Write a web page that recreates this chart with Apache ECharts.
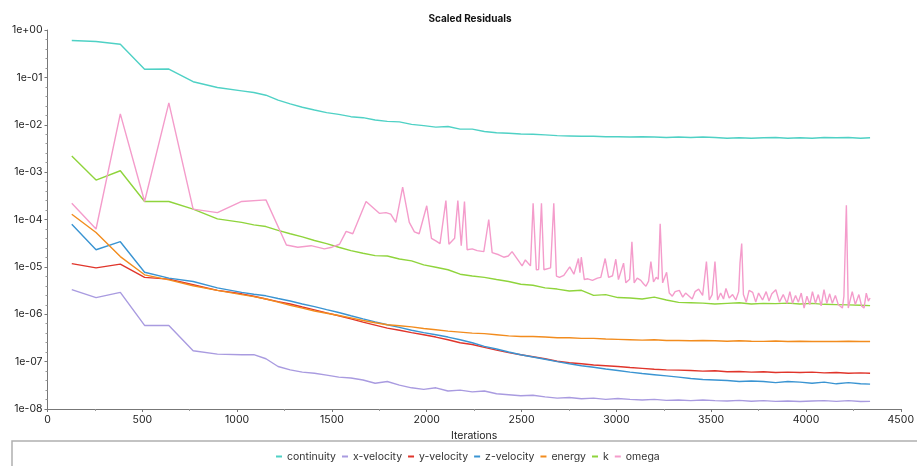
<!DOCTYPE html>
<html>
<head>
<meta charset="utf-8">
<script src="https://cdn.jsdelivr.net/npm/echarts@6/dist/echarts.min.js"></script>
<style>
html,body{margin:0;padding:0;background:#fff;}
#chart{width:917px;height:466px;}
</style>
</head>
<body>
<div id="chart"></div>
<script>
const seriesNames = ['continuity','x-velocity','y-velocity','z-velocity','energy','k','omega'];
const colors = ['#4fd1c5','#a99be0','#e0352b','#3a94d2','#f28c1e','#8fd43c','#f49ccb'];

const iterations = [128,256,384,512,640,768,896,1024,1088,1152,1216,1280,1344,1408,1472,1536,1600,1664,1728,1792,1856,1920,1984,2048,2112,2176,2240,2304,2368,2432,2496,2560,2624,2688,2752,2816,2880,2944,3008,3072,3136,3200,3264,3328,3392,3456,3520,3584,3648,3712,3776,3840,3904,3968,4032,4096,4160,4224,4288,4338];

const continuity = [0.60,0.57,0.50,0.148,0.150,0.081,0.061,0.052,0.048,0.042,0.033,0.0275,0.0234,0.0205,0.018,0.0166,0.0148,0.0141,0.0126,0.0118,0.0115,0.0102,0.0096,0.0089,0.0092,0.0081,0.0081,0.0072,0.0068,0.0066,0.0064,0.0063,0.0061,0.0059,0.0058,0.0057,0.0057,0.0056,0.0056,0.0055,0.0056,0.0055,0.0054,0.0055,0.0054,0.0055,0.0054,0.0052,0.0053,0.0052,0.0053,0.0054,0.0052,0.0053,0.0052,0.0054,0.0053,0.0054,0.0052,0.0053];

const xVelocity = [3.3e-6,2.24e-6,2.9e-6,5.8e-7,5.8e-7,1.7e-7,1.44e-7,1.4e-7,1.4e-7,1.15e-7,7.9e-8,6.7e-8,6.0e-8,5.7e-8,5.2e-8,4.7e-8,4.5e-8,4.1e-8,3.5e-8,3.8e-8,3.2e-8,2.8e-8,2.6e-8,2.8e-8,2.4e-8,2.5e-8,2.3e-8,2.4e-8,2.1e-8,2.0e-8,1.9e-8,1.95e-8,1.8e-8,1.7e-8,1.75e-8,1.65e-8,1.7e-8,1.6e-8,1.66e-8,1.6e-8,1.55e-8,1.6e-8,1.52e-8,1.55e-8,1.5e-8,1.55e-8,1.5e-8,1.47e-8,1.52e-8,1.46e-8,1.5e-8,1.45e-8,1.48e-8,1.44e-8,1.47e-8,1.5e-8,1.45e-8,1.5e-8,1.44e-8,1.45e-8];

const yVelocity = [1.17e-5,9.5e-6,1.14e-5,6.0e-6,5.5e-6,4.2e-6,3.2e-6,2.7e-6,2.4e-6,2.1e-6,1.85e-6,1.65e-6,1.42e-6,1.24e-6,1.07e-6,9.3e-7,8.0e-7,6.8e-7,5.9e-7,5.1e-7,4.6e-7,4.1e-7,3.7e-7,3.3e-7,2.9e-7,2.5e-7,2.3e-7,2.0e-7,1.75e-7,1.55e-7,1.4e-7,1.27e-7,1.15e-7,1.02e-7,9.5e-8,9.0e-8,8.5e-8,8.2e-8,7.9e-8,7.5e-8,7.2e-8,6.9e-8,6.7e-8,6.6e-8,6.5e-8,6.3e-8,6.4e-8,6.1e-8,6.2e-8,6.0e-8,6.1e-8,5.9e-8,6.0e-8,5.9e-8,6.0e-8,5.8e-8,5.9e-8,5.7e-8,5.8e-8,5.7e-8];

const zVelocity = [7.9e-5,2.3e-5,3.4e-5,7.7e-6,5.8e-6,4.9e-6,3.6e-6,2.9e-6,2.65e-6,2.45e-6,2.15e-6,1.9e-6,1.65e-6,1.45e-6,1.25e-6,1.09e-6,9.3e-7,8.0e-7,6.9e-7,6.0e-7,5.3e-7,4.6e-7,4.1e-7,3.7e-7,3.3e-7,2.9e-7,2.5e-7,2.1e-7,1.85e-7,1.6e-7,1.4e-7,1.25e-7,1.12e-7,1.0e-7,9.0e-8,8.2e-8,7.6e-8,7.0e-8,6.5e-8,6.0e-8,5.6e-8,5.3e-8,5.0e-8,4.7e-8,4.4e-8,4.2e-8,4.1e-8,4.0e-8,3.8e-8,3.9e-8,3.8e-8,3.6e-8,3.8e-8,3.7e-8,3.5e-8,3.7e-8,3.4e-8,3.6e-8,3.4e-8,3.35e-8];

const energy = [1.29e-4,5.3e-5,1.65e-5,6.8e-6,5.3e-6,4.0e-6,3.2e-6,2.6e-6,2.35e-6,2.1e-6,1.8e-6,1.55e-6,1.35e-6,1.17e-6,1.05e-6,9.4e-7,8.4e-7,7.4e-7,6.6e-7,6.0e-7,5.7e-7,5.4e-7,5.0e-7,4.7e-7,4.4e-7,4.2e-7,4.0e-7,3.9e-7,3.7e-7,3.5e-7,3.4e-7,3.4e-7,3.3e-7,3.2e-7,3.2e-7,3.1e-7,3.1e-7,3.0e-7,2.95e-7,2.9e-7,2.85e-7,2.9e-7,2.8e-7,2.8e-7,2.75e-7,2.8e-7,2.75e-7,2.7e-7,2.75e-7,2.7e-7,2.68e-7,2.72e-7,2.66e-7,2.7e-7,2.65e-7,2.68e-7,2.66e-7,2.7e-7,2.65e-7,2.66e-7];

const kValues = [2.2e-3,6.8e-4,1.07e-3,2.4e-4,2.4e-4,1.66e-4,1.03e-4,8.7e-5,7.7e-5,7.1e-5,5.9e-5,5.0e-5,4.3e-5,3.6e-5,3.1e-5,2.6e-5,2.2e-5,1.94e-5,1.73e-5,1.7e-5,1.47e-5,1.34e-5,1.1e-5,9.8e-6,8.7e-6,7.0e-6,6.4e-6,6.0e-6,5.4e-6,4.9e-6,4.3e-6,4.1e-6,3.6e-6,3.4e-6,3.1e-6,3.2e-6,2.5e-6,2.6e-6,2.25e-6,2.2e-6,2.1e-6,2.3e-6,2.0e-6,1.78e-6,1.75e-6,1.72e-6,1.65e-6,1.7e-6,1.75e-6,1.65e-6,1.7e-6,1.68e-6,1.72e-6,1.65e-6,1.7e-6,1.62e-6,1.6e-6,1.58e-6,1.55e-6,1.52e-6];

const omegaIterations = [128,256,384,512,640,768,896,1024,1152,1260,1320,1390,1460,1500,1540,1575,1610,1680,1750,1785,1810,1837,1873,1908,1935,1960,2000,2025,2050,2070,2101,2117,2147,2164,2182,2199,2213,2240,2266,2301,2327,2345,2380,2406,2430,2450,2476,2503,2520,2547,2561,2578,2590,2605,2618,2653,2670,2684,2700,2723,2754,2776,2800,2808,2815,2831,2850,2874,2900,2918,2941,2959,2980,2997,3011,3038,3050,3070,3082,3094,3110,3129,3143,3156,3170,3182,3196,3210,3221,3231,3244,3265,3279,3295,3310,3332,3350,3365,3384,3400,3415,3434,3455,3475,3490,3505,3520,3534,3550,3565,3578,3595,3613,3630,3645,3652,3661,3670,3685,3700,3719,3735,3750,3771,3790,3805,3820,3841,3860,3880,3900,3915,3929,3945,3960,3975,3990,4005,4020,4034,4050,4065,4080,4095,4110,4125,4139,4155,4170,4192,4200,4213,4223,4244,4260,4279,4293,4306,4318,4329,4338];

const omega = [2.2e-4,6.3e-5,1.7e-2,2.4e-4,2.9e-2,1.66e-4,1.4e-4,2.4e-4,2.6e-4,2.9e-5,2.6e-5,2.8e-5,2.4e-5,2.6e-5,3.0e-5,5.6e-5,5.0e-5,2.4e-4,1.35e-4,1.4e-4,1.3e-4,8.7e-5,4.8e-4,8.7e-5,5.5e-5,5.0e-5,1.95e-4,4.0e-5,3.5e-5,3.1e-5,2.5e-4,3.0e-5,4.0e-5,2.5e-4,2.8e-5,2.4e-4,2.3e-5,2.4e-5,2.2e-5,2.1e-5,1.0e-4,2.0e-5,1.8e-5,1.6e-5,1.7e-5,2.1e-5,1.5e-5,1.05e-5,1.4e-5,1.05e-5,2.2e-4,8.7e-6,8.8e-6,2.2e-4,8.7e-6,9.5e-6,2.2e-4,6.4e-6,6.0e-6,6.6e-6,1.0e-5,7.0e-6,1.5e-5,7.5e-6,1.6e-5,5.4e-6,5.6e-6,5.2e-6,5.8e-6,6.0e-6,1.5e-5,6.0e-6,6.5e-6,1.45e-5,5.4e-6,1.2e-5,4.6e-6,5.5e-6,3.4e-5,4.6e-6,5.8e-6,5.2e-6,4.4e-6,3.9e-6,5.0e-6,1.3e-5,4.8e-6,6.0e-6,5.5e-6,8.1e-5,4.6e-6,7.7e-6,2.8e-6,2.4e-6,3.0e-6,3.2e-6,2.3e-6,2.8e-6,2.4e-6,2.1e-6,3.0e-6,3.4e-6,2.5e-6,1.3e-5,2.0e-6,2.6e-6,1.3e-5,2.0e-6,2.8e-6,2.1e-6,3.5e-6,2.2e-6,2.6e-6,2.0e-6,3.0e-6,1.2e-5,3.1e-5,2.6e-6,1.8e-6,3.2e-6,2.9e-6,1.8e-6,2.8e-6,2.0e-6,3.0e-6,1.9e-6,2.7e-6,3.3e-6,1.8e-6,2.6e-6,1.7e-6,3.0e-6,1.7e-6,2.5e-6,1.8e-6,2.8e-6,1.35e-6,2.4e-6,1.6e-6,3.0e-6,1.7e-6,2.6e-6,1.5e-6,3.3e-6,1.7e-6,2.7e-6,1.7e-6,2.5e-6,1.6e-6,1.35e-6,2.4e-6,2.0e-4,1.35e-6,3.0e-6,1.6e-6,2.6e-6,1.5e-6,1.35e-6,2.8e-6,1.9e-6,2.2e-6];

const xTickInterval = 500;
const xMin = 0, xMax = 4500;
const yMin = 1e-8, yMax = 1;
const yDecadeMin = -8, yDecadeMax = 0;

function zip(xs, ys){ return xs.map((x,i)=>[x, ys[i]]); }

const seriesData = [
  zip(iterations, continuity),
  zip(iterations, xVelocity),
  zip(iterations, yVelocity),
  zip(iterations, zVelocity),
  zip(iterations, energy),
  zip(iterations, kValues),
  zip(omegaIterations, omega)
];

function fmtExp(v){
  const e = Math.round(Math.log10(v));
  const m = Math.abs(e);
  return '1e' + (e < 0 ? '-' : '+') + (m < 10 ? '0' + m : '' + m);
}

const chart = echarts.init(document.getElementById('chart'), null, {renderer:'canvas'});
const font = 'Inter, "Noto Sans", sans-serif';

chart.setOption({
  animation: false,
  backgroundColor: '#fff',
  color: colors,
  title: {
    text: 'Scaled Residuals',
    left: 465, top: 9, textAlign: 'center',
    textStyle: {fontFamily: font, fontSize: 10, fontWeight: 'bold', color: '#111'}
  },
  legend: {
    data: seriesNames,
    left: 271,
    top: 446,
    itemWidth: 6, itemHeight: 2, itemGap: 6,
    icon: 'rect',
    textStyle: {fontFamily: font, fontSize: 10.5, color: '#333'}
  },
  graphic: [{
    type: 'rect',
    shape: {x: 12, y: 441, width: 940, height: 60},
    style: {fill: 'none', stroke: '#b0b0b0', lineWidth: 1.5},
    silent: true
  }],
  grid: {left: 47.5, right: 14.5, top: 30, bottom: 57, containLabel: false},
  xAxis: {
    type: 'value',
    min: xMin, max: xMax, interval: xTickInterval,
    name: 'Iterations', nameLocation: 'middle', nameGap: 20,
    nameTextStyle: {fontFamily: font, fontSize: 10.5, color: '#222'},
    axisLine: {show: true, onZero: false, lineStyle: {color: '#777', width: 1}},
    axisTick: {show: true, length: 3, lineStyle: {color: '#777'}},
    minorTick: {show: true, splitNumber: 2, length: 2, lineStyle: {color: '#999'}},
    axisLabel: {fontFamily: font, fontSize: 10.5, color: '#222', margin: 5, formatter: v => String(v)},
    splitLine: {show: false}
  },
  yAxis: [{
    type: 'log', logBase: 10,
    min: yMin, max: yMax, splitNumber: 8,
    axisLine: {show: true, lineStyle: {color: '#777', width: 1}},
    axisTick: {show: true, length: 3, lineStyle: {color: '#777'}},
    axisLabel: {fontFamily: font, fontSize: 10.5, color: '#222', margin: 5, formatter: fmtExp},
    splitLine: {show: false},
    minorSplitLine: {show: false}
  }, {
    type: 'value',
    position: 'left',
    min: yDecadeMin, max: yDecadeMax, interval: 1,
    axisLine: {show: false},
    axisTick: {show: false},
    axisLabel: {show: false},
    minorTick: {show: true, splitNumber: 5, length: 2, lineStyle: {color: '#999'}},
    splitLine: {show: false},
    minorSplitLine: {show: false}
  }],
  series: seriesNames.map((n, i) => ({
    name: n,
    type: 'line',
    yAxisIndex: 0,
    data: seriesData[i],
    showSymbol: false,
    symbol: 'none',
    lineStyle: {width: 1.4, color: colors[i]},
    itemStyle: {color: colors[i]},
    z: i === 6 ? 3 : 2
  }))
});
</script>
</body>
</html>
